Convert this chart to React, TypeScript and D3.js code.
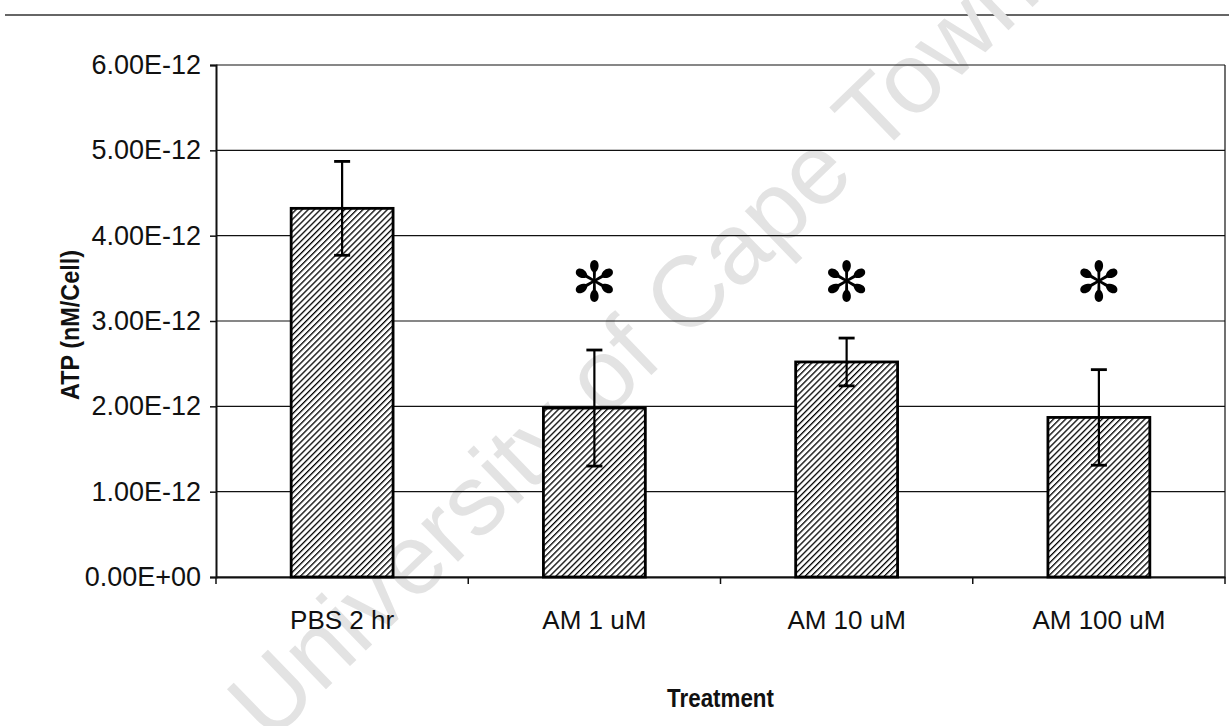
import * as d3 from "d3";
import { useEffect, useRef } from "react";

const categories = ["PBS 2 hr", "AM 1 uM", "AM 10 uM", "AM 100 uM"];
const atpMeans = [4.32e-12, 1.98e-12, 2.52e-12, 1.87e-12];
const atpErrors = [0.55e-12, 0.68e-12, 0.28e-12, 0.56e-12];
const significant = [false, true, true, true];
const yTicks = [0, 1e-12, 2e-12, 3e-12, 4e-12, 5e-12, 6e-12];
const yTickLabels = ["0.00E+00", "1.00E-12", "2.00E-12", "3.00E-12", "4.00E-12", "5.00E-12", "6.00E-12"];
const markerLevel = 3.47e-12;

const App = () => {
  const svgRef = useRef<SVGSVGElement>(null);

  useEffect(() => {
    const w = 1229;
    const h = 726;
    const left = 216, right = 1225, top = 65, bottom = 577;
    const font = "'Liberation Sans', Arial, sans-serif";

    const svg = d3.select(svgRef.current).attr("width", w).attr("height", h);
    svg.selectAll("*").remove();

    // hatch for the bars
    svg.append("defs")
      .append("pattern")
      .attr("id", "hatch")
      .attr("patternUnits", "userSpaceOnUse")
      .attr("width", 4.3)
      .attr("height", 4.3)
      .attr("patternTransform", "rotate(45)")
      .call(p => p.append("rect").attr("width", 4.3).attr("height", 4.3).attr("fill", "#fff"))
      .append("line")
      .attr("x1", 0).attr("y1", 0).attr("x2", 0).attr("y2", 4.3)
      .attr("stroke", "#000").attr("stroke-width", 2.6);

    const xScale = d3.scaleBand().domain(categories).range([left, right]).padding(0);
    const yScale = d3.scaleLinear().domain([0, 6e-12]).range([bottom, top]);
    const bw = xScale.bandwidth() * 0.404;

    // rule at the top of the page
    svg.append("line")
      .attr("x1", 5).attr("x2", w).attr("y1", 15).attr("y2", 15)
      .attr("stroke", "#333").attr("stroke-width", 1.5);

    // watermark (under the marks)
    svg.append("text")
      .attr("transform", "translate(632,345) rotate(-44)")
      .attr("text-anchor", "middle")
      .attr("dominant-baseline", "central")
      .attr("font-family", font).attr("font-size", 100)
      .attr("fill", "#e3e3e3")
      .text("University of Cape Town");

    // gridlines
    svg.append("g")
      .selectAll("line")
      .data(yTicks)
      .join("line")
      .attr("x1", left).attr("x2", right)
      .attr("y1", d => yScale(d)).attr("y2", d => yScale(d))
      .attr("stroke", "#111").attr("stroke-width", 1.2);

    // right border
    svg.append("line")
      .attr("x1", right).attr("x2", right).attr("y1", top).attr("y2", bottom)
      .attr("stroke", "#111").attr("stroke-width", 1.2);

    // y axis
    const yAxis = d3.axisLeft(yScale)
      .tickValues(yTicks)
      .tickSize(6)
      .tickPadding(9)
      .tickFormat((d, i) => yTickLabels[i]);
    const gy = svg.append("g").attr("transform", `translate(${left},0)`).call(yAxis);
    gy.select(".domain").attr("stroke", "#111").attr("stroke-width", 2);
    gy.selectAll(".tick line").attr("stroke", "#111").attr("stroke-width", 1.5);
    gy.selectAll(".tick text")
      .attr("font-family", font).attr("font-size", 27).attr("fill", "#111");

    // x axis, ticks on the category boundaries
    const xAxis = d3.axisBottom(xScale).tickSize(0).tickPadding(34);
    const gx = svg.append("g").attr("transform", `translate(0,${bottom})`).call(xAxis);
    gx.select(".domain").attr("stroke", "#111").attr("stroke-width", 2.2);
    gx.selectAll(".tick text")
      .attr("font-family", font).attr("font-size", 26).attr("fill", "#111");
    const bounds = categories.map(c => xScale(c)!).concat([right]);
    gx.selectAll(".bound")
      .data(bounds)
      .join("line")
      .attr("class", "bound")
      .attr("x1", d => d).attr("x2", d => d)
      .attr("y1", 0).attr("y2", 7)
      .attr("stroke", "#111").attr("stroke-width", 1.5);

    // bars
    svg.append("g")
      .selectAll("rect")
      .data(atpMeans)
      .join("rect")
      .attr("x", (v, i) => xScale(categories[i])! + (xScale.bandwidth() - bw) / 2)
      .attr("y", v => yScale(v))
      .attr("width", bw)
      .attr("height", v => bottom - yScale(v))
      .attr("fill", "url(#hatch)")
      .attr("stroke", "#000")
      .attr("stroke-width", 2.8);

    // error bars
    const cx = (i: number) => xScale(categories[i])! + xScale.bandwidth() / 2;
    const eg = svg.append("g").attr("stroke", "#000").attr("stroke-width", 2.2);
    atpMeans.forEach((v, i) => {
      const hi = yScale(v + atpErrors[i]);
      const lo = yScale(v - atpErrors[i]);
      eg.append("line").attr("x1", cx(i)).attr("x2", cx(i)).attr("y1", hi).attr("y2", lo);
      eg.append("line").attr("x1", cx(i) - 8).attr("x2", cx(i) + 8).attr("y1", hi).attr("y2", hi).attr("stroke-width", 2.8);
      eg.append("line").attr("x1", cx(i) - 8).attr("x2", cx(i) + 8).attr("y1", lo).attr("y2", lo).attr("stroke-width", 2.8);
    });

    // significance asterisks
    const petal = "M -1.2,0 L -1.5,-9 C -5.6,-12.5 -5.2,-20.5 0,-21 C 5.2,-20.5 5.6,-12.5 1.5,-9 L 1.2,0 Z";
    const stars = svg.append("g")
      .selectAll("g")
      .data(categories.filter((c, i) => significant[i]))
      .join("g")
      .attr("transform", c => `translate(${xScale(c)! + xScale.bandwidth() / 2},${yScale(markerLevel)})`);
    stars.selectAll("path")
      .data([0, 60, 120, 180, 240, 300])
      .join("path")
      .attr("d", petal)
      .attr("transform", a => `rotate(${a})`)
      .attr("fill", "#000");

    // axis titles
    svg.append("text")
      .attr("transform", `translate(${(left + right) / 2},707) scale(0.86,1)`)
      .attr("text-anchor", "middle")
      .attr("font-family", font).attr("font-weight", "bold").attr("font-size", 26)
      .attr("fill", "#111")
      .text("Treatment");
    svg.append("text")
      .attr("transform", `translate(79,${(top + bottom) / 2 + 4}) rotate(-90) scale(0.9,1)`)
      .attr("text-anchor", "middle")
      .attr("font-family", font).attr("font-weight", "bold").attr("font-size", 26)
      .attr("fill", "#111")
      .text("ATP (nM/Cell)");
  }, []);

  return (
    <svg ref={svgRef} style={{ position: "absolute", left: 0, top: 0, background: "#fff" }}></svg>
  );
};

export default App;
